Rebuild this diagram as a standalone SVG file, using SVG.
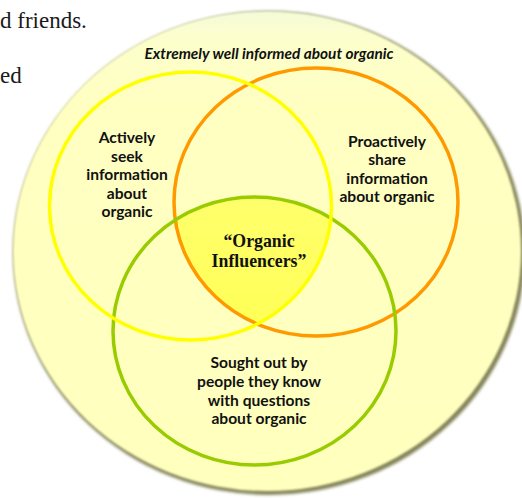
<svg xmlns="http://www.w3.org/2000/svg" width="522" height="498" viewBox="0 0 522 498">
<style>
.page{font-family:"Liberation Serif","DejaVu Serif",serif;font-size:23px;fill:#1a1a1a}
.lbl{font-family:Lato,"Liberation Sans",sans-serif;font-weight:bold;font-size:15.6px;fill:#111;text-anchor:middle}
.ttl{font-family:Lato,"Liberation Sans",sans-serif;font-weight:bold;font-style:italic;font-size:15.4px;fill:#111;text-anchor:middle}
.ctr{font-family:"Liberation Serif","DejaVu Serif",serif;font-weight:bold;font-size:17.8px;fill:#111;text-anchor:middle}
.ring{fill:none;stroke-width:3.5}
</style>
<defs>
<filter id="blur2" x="-5%" y="-5%" width="110%" height="110%"><feGaussianBlur stdDeviation="1.6"/></filter>
<filter id="blur1" x="-5%" y="-5%" width="110%" height="110%"><feGaussianBlur stdDeviation="0.8"/></filter>
<linearGradient id="bg" x1="0" y1="0" x2="0" y2="1">
<stop offset="0" stop-color="#f4fbd8"/>
<stop offset="0.06" stop-color="#fdffcc"/>
<stop offset="0.2" stop-color="#ffffc2"/>
<stop offset="1" stop-color="#ffffbe"/>
</linearGradient>
<linearGradient id="core" x1="0" y1="0" x2="0" y2="1">
<stop offset="0" stop-color="#ffff80"/>
<stop offset="1" stop-color="#ffff55"/>
</linearGradient>
<clipPath id="cG"><ellipse cx="254.5" cy="331" rx="141.5" ry="134"/></clipPath>
<clipPath id="cO"><ellipse cx="316" cy="202" rx="142" ry="134"/></clipPath>
</defs>
<g id="page-text">
<text class="page" x="0" y="28">d friends.</text>
<text class="page" x="0" y="83">ed</text>
</g>
<g id="outer">
<ellipse cx="269" cy="253" rx="256" ry="242" fill="#84845a" filter="url(#blur2)"/>
<ellipse cx="267" cy="251" rx="254" ry="240" fill="url(#bg)" filter="url(#blur1)"/>
<text class="ttl" x="269" y="59">Extremely well informed about organic</text>
</g>
<g id="core">
<g clip-path="url(#cG)"><g clip-path="url(#cO)">
<ellipse cx="190.5" cy="206" rx="141" ry="134" fill="url(#core)"/>
</g></g>
<text class="ctr" x="259" y="247">“Organic</text>
<text class="ctr" x="259" y="267">Influencers”</text>
</g>
<g id="connectors">
<ellipse id="ring-orange" class="ring" cx="316" cy="202" rx="142" ry="134" stroke="#ff9900"/>
<ellipse id="ring-green" class="ring" cx="254.5" cy="331" rx="141.5" ry="134" stroke="#99cc00"/>
<ellipse id="ring-yellow" class="ring" cx="190.5" cy="206" rx="141" ry="134" stroke="#ffff00"/>
</g>
<g id="seek">
<text class="lbl" x="127" y="143">Actively</text>
<text class="lbl" x="127" y="162">seek</text>
<text class="lbl" x="127" y="180">information</text>
<text class="lbl" x="127" y="199">about</text>
<text class="lbl" x="127" y="217">organic</text>
</g>
<g id="share">
<text class="lbl" x="387" y="147">Proactively</text>
<text class="lbl" x="387" y="165">share</text>
<text class="lbl" x="387" y="184">information</text>
<text class="lbl" x="387" y="202">about organic</text>
</g>
<g id="sought">
<text class="lbl" x="259" y="368">Sought out by</text>
<text class="lbl" x="259" y="387">people they know</text>
<text class="lbl" x="259" y="406">with questions</text>
<text class="lbl" x="259" y="424">about organic</text>
</g>
</svg>
